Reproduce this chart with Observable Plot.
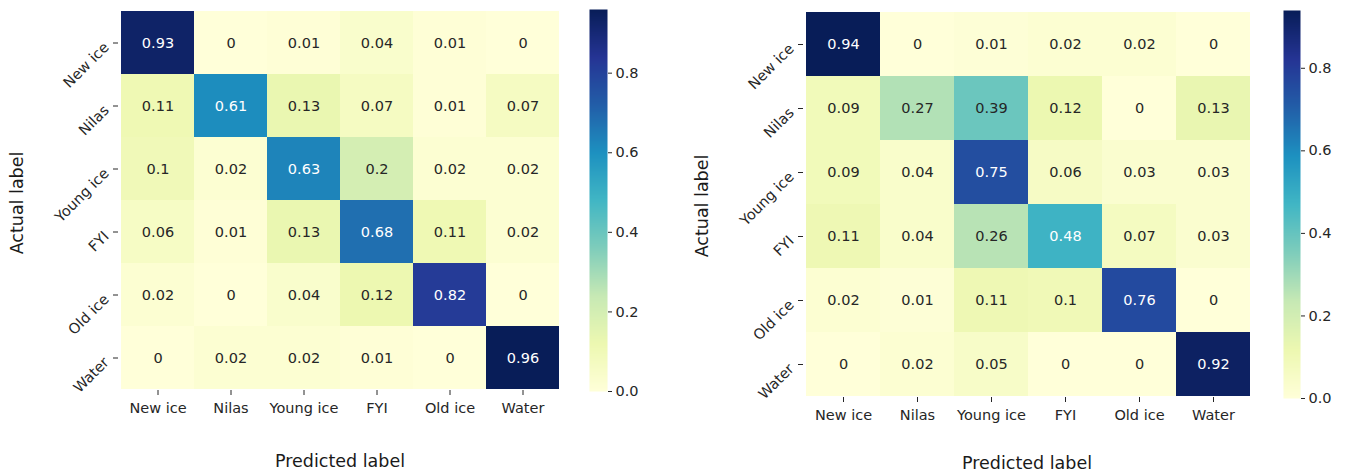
<!DOCTYPE html>
<html><head><meta charset="utf-8">
<script src="https://cdn.jsdelivr.net/npm/d3@7"></script>
<script src="https://cdn.jsdelivr.net/npm/@observablehq/plot@0.6"></script>
<style>
body{margin:0;background:#fff;font-family:"DejaVu Sans",sans-serif;}
#root{position:relative;width:1346px;height:474px;overflow:hidden;background:#fff;}
.abs{position:absolute;top:0;}
.ttl{position:absolute;font-size:17.5px;color:#1a1a1a;white-space:nowrap;line-height:1;}
</style></head><body><div id="root"></div>
<script>
// ---- data ----
const classLabels = ["New ice", "Nilas", "Young ice", "FYI", "Old ice", "Water"];
const leftMatrix = [
  [0.93, 0, 0.01, 0.04, 0.01, 0],
  [0.11, 0.61, 0.13, 0.07, 0.01, 0.07],
  [0.1, 0.02, 0.63, 0.2, 0.02, 0.02],
  [0.06, 0.01, 0.13, 0.68, 0.11, 0.02],
  [0.02, 0, 0.04, 0.12, 0.82, 0],
  [0, 0.02, 0.02, 0.01, 0, 0.96]
];
const rightMatrix = [
  [0.94, 0, 0.01, 0.02, 0.02, 0],
  [0.09, 0.27, 0.39, 0.12, 0, 0.13],
  [0.09, 0.04, 0.75, 0.06, 0.03, 0.03],
  [0.11, 0.04, 0.26, 0.48, 0.07, 0.03],
  [0.02, 0.01, 0.11, 0.1, 0.76, 0],
  [0, 0.02, 0.05, 0, 0, 0.92]
];
const colorbarTicks = [0, 0.2, 0.4, 0.6, 0.8];
const xTitle = "Predicted label";
const yTitle = "Actual label";

// ---- colour map (matplotlib YlGnBu) ----
const ylgnbuStops = ["#ffffd9","#edf8b1","#c7e9b4","#7fcdbb","#41b6c4","#1d91c0","#225ea8","#253494","#081d58"];
const ylgnbu = d3.piecewise(d3.interpolateRgb, ylgnbuStops);
function relLum(c) {
  const rgb = d3.rgb(c);
  const f = v => { v /= 255; return v <= 0.03928 ? v / 12.92 : Math.pow((v + 0.055) / 1.055, 2.4); };
  return 0.2126 * f(rgb.r) + 0.7152 * f(rgb.g) + 0.0722 * f(rgb.b);
}

const root = document.getElementById("root");
const FONT = "DejaVu Sans, sans-serif";

function panel(matrix, g) {
  const data = [];
  matrix.forEach((row, i) => row.forEach((v, j) => data.push({actual: classLabels[i], pred: classLabels[j], value: v})));
  const vmax = d3.max(data, d => d.value);
  const color = {type: "linear", domain: [0, vmax], interpolate: ylgnbu};
  const isLight = d => relLum(ylgnbu(d.value / vmax)) > 0.408;

  const svgW = g.gridRight - g.panelX + 10;
  const heat = Plot.plot({
    width: svgW, height: 474,
    marginLeft: g.gridLeft - g.panelX, marginRight: 10,
    marginTop: g.top, marginBottom: 474 - g.bottom,
    style: {fontFamily: FONT, fontSize: "14.5px", color: "#262626", background: "transparent"},
    x: {domain: classLabels, padding: 0},
    y: {domain: classLabels, padding: 0},
    color,
    marks: [
      Plot.cell(data, {x: "pred", y: "actual", fill: "value", inset: 0}),
      Plot.text(data, {x: "pred", y: "actual", text: d => String(d.value), filter: isLight, fill: "#262626", fontSize: 14.5}),
      Plot.text(data, {x: "pred", y: "actual", text: d => String(d.value), filter: d => !isLight(d), fill: "white", fontSize: 14.5}),
      Plot.axisX({anchor: "bottom", tickSize: 5, tickPadding: 7, label: null, fontSize: 14.5}),
      Plot.axisY({anchor: "left", tickSize: 5, tickFormat: () => "", label: null}),
      Plot.axisY({anchor: "left", tickSize: 0, tickPadding: 0, dx: -12, dy: 2, tickRotate: -45, label: null, fontSize: 14.5})
    ]
  });
  heat.classList.add("abs");
  heat.style.left = g.panelX + "px";
  root.appendChild(heat);

  const cbSvgLeft = g.cbLeft - 10;
  const cbW = 10 + g.cbWidth + 50;
  const cb = Plot.plot({
    width: cbW, height: 474,
    marginLeft: 10, marginRight: 50,
    marginTop: g.top, marginBottom: 474 - g.cbBottom,
    style: {fontFamily: FONT, fontSize: "14.5px", color: "#262626", background: "transparent"},
    x: {domain: [0, 1], axis: null},
    y: {domain: [0, vmax]},
    color,
    marks: [
      Plot.raster({fill: (x, y) => y, x1: 0, x2: 1, y1: 0, y2: vmax, pixelSize: 1}),
      Plot.axisY({anchor: "right", ticks: colorbarTicks, tickFormat: d3.format(".1f"), tickSize: 4, tickPadding: 4, label: null, fontSize: 14.5})
    ]
  });
  cb.classList.add("abs");
  cb.style.left = cbSvgLeft + "px";
  root.appendChild(cb);

  const yt = document.createElement("div");
  yt.className = "ttl"; yt.textContent = yTitle;
  yt.style.left = g.yTitleX + "px"; yt.style.top = g.yTitleY + "px";
  yt.style.transform = "translate(-50%,-50%) rotate(-90deg)";
  root.appendChild(yt);
  const xt = document.createElement("div");
  xt.className = "ttl"; xt.textContent = xTitle;
  xt.style.left = g.xTitleX + "px"; xt.style.top = g.xTitleY + "px";
  xt.style.transform = "translate(-50%,-50%)";
  root.appendChild(xt);
}

panel(leftMatrix, {panelX: 0, gridLeft: 118, gridRight: 561, top: 9, bottom: 390, cbLeft: 589, cbWidth: 18, cbBottom: 391,
  yTitleX: 18, yTitleY: 203, xTitleX: 340, xTitleY: 462});
panel(rightMatrix, {panelX: 685, gridLeft: 803, gridRight: 1252, top: 10, bottom: 397, cbLeft: 1283, cbWidth: 17, cbBottom: 398,
  yTitleX: 703, yTitleY: 206, xTitleX: 1027, xTitleY: 464});
</script></body></html>
